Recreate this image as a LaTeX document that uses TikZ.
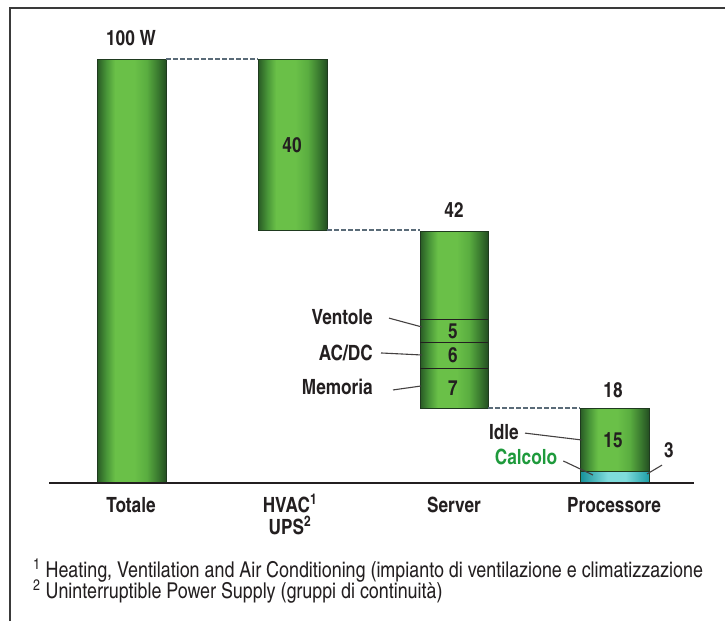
\documentclass[tikz,border=0pt]{standalone}
\usepackage{fontspec}
\setmainfont{texgyreheroscn}[Extension=.otf, UprightFont=*-regular, BoldFont=*-bold]
\usetikzlibrary{calc}

\definecolor{ink}{HTML}{231F20}
\definecolor{frame}{HTML}{3A3A3A}
\definecolor{dashc}{HTML}{5A6B78}
\definecolor{barline}{HTML}{1F3A1F}
\definecolor{calcgreen}{HTML}{1E9A3C}
% green bar colours, from the left edge to the right edge
\definecolor{gA}{HTML}{285A25}
\definecolor{gB}{HTML}{4A9839}
\definecolor{gC}{HTML}{6AC048}
\definecolor{gD}{HTML}{5AAD40}
\definecolor{gE}{HTML}{3A7A2F}
\definecolor{gF}{HTML}{244F22}
% cyan segment colours
\definecolor{cA}{HTML}{159099}
\definecolor{cB}{HTML}{7FDCDC}
\definecolor{cC}{HTML}{1E9EA6}

\pgfdeclarehorizontalshading{barshade}{100bp}{%
  color(0bp)=(gA); color(25bp)=(gA); color(32bp)=(gB); color(38bp)=(gC);
  color(52bp)=(gC); color(61bp)=(gD); color(69bp)=(gE); color(75bp)=(gF);
  color(100bp)=(gF)}
\pgfdeclarehorizontalshading{calcshade}{100bp}{%
  color(0bp)=(cA); color(25bp)=(cA); color(45bp)=(cB); color(58bp)=(cB);
  color(75bp)=(cC); color(100bp)=(cC)}

\tikzset{
  bar/.style={shading=barshade, draw=barline, line width=0.9pt,
    inner sep=0pt, outer sep=0pt, anchor=south west},
  calcbar/.style={shading=calcshade, draw=barline, line width=0.9pt,
    inner sep=0pt, outer sep=0pt, anchor=south west},
  lab/.style={font=\bfseries\fontsize{21}{24}\selectfont, text=ink,
    inner sep=0pt, anchor=base},
  foot/.style={font=\fontsize{21.8}{24}\selectfont, text=ink,
    inner sep=0pt, anchor=base west},
  leader/.style={draw=ink!85, line width=1.1pt},
  link/.style={draw=dashc, line width=1.4pt, dash pattern=on 4.5pt off 2.5pt},
  seg/.style={draw=ink, line width=1pt}
}

\begin{document}
\begin{tikzpicture}[x=1pt, y=-1pt]
\useasboundingbox (0,0) rectangle (725,621);

% frame on the top and left sides
\draw[frame, line width=1.6pt] (10,621) -- (10,8) -- (725,8);

% bars
\node[bar, minimum width=69pt, minimum height=424pt] (tot)    at (97,483)  {};
\node[bar, minimum width=69pt, minimum height=171pt] (hvac)   at (258,230) {};
\node[bar, minimum width=68pt, minimum height=177pt] (server) at (420,408) {};
\node[bar, minimum width=69pt, minimum height=75pt]  (proc)   at (580,483) {};
\node[calcbar, minimum width=69pt, minimum height=12pt] (calc) at (580,483) {};

% segments inside the server bar
\coordinate (s1) at (420,319);
\coordinate (s2) at (420,342);
\coordinate (s3) at (420,368);
\draw[seg] (s1) -- (s1 -| server.east);
\draw[seg] (s2) -- (s2 -| server.east);
\draw[seg] (s3) -- (s3 -| server.east);

% dashed links between consecutive bars
\draw[link] (tot.north east) -- (hvac.north west);
\draw[link] (hvac.south east) -- (hvac.south east -| server.west);
\draw[link] (server.south east) -- (proc.north west);

% baseline
\coordinate (ax1) at (49,483);
\coordinate (ax2) at (694,483);
\draw[ink, line width=2.6pt] (ax1) -- (ax2);

% values
\node[lab] (v100) at (131,45.5)  {100 W};
\node[lab] (v40)  at (292,152.5) {40};
\node[lab] (v42)  at (454,217.5) {42};
\node[lab] (v5)   at (453,338) {5};
\node[lab] (v6)   at (453,362.5) {6};
\node[lab] (v7)   at (453,395.5) {7};
\node[lab] (v18)  at (613,397.5) {18};
\node[lab] (v15)  at (613,447.5) {15};
\node[lab] (v3)   at (669,457.5) {3};

% component labels with leader lines
\node[lab, anchor=base east] (lvent) at (373,324.5) {Ventole};
\node[lab, anchor=base east] (lacdc) at (373,360.5) {AC/DC};
\node[lab, anchor=base east] (lmem)  at (373,394.5) {Memoria};
\node[lab, anchor=base east] (lidle) at (519,439.5) {Idle};
\node[lab, text=calcgreen]   (lcalc) at (526,464.5) {Calcolo};

\coordinate (pvent) at (422,327);
\coordinate (pacdc) at (422,355);
\coordinate (pmem)  at (421,386);
\coordinate (pidle) at (582,440);
\coordinate (pcalc) at (593,475);
\coordinate (pthree) at (647,474);

\draw[leader] ($(lvent.east)+(16,1)$) -- (pvent);
\draw[leader] ($(lacdc.east)+(8,0)$) -- (pacdc);
\draw[leader] ($(lmem.east)+(20,3)$) -- (pmem);
\draw[leader] ($(lidle.east)+(6,1)$) -- (pidle);
\draw[leader] ($(lcalc.east)+(6,4)$) -- (pcalc);
\draw[leader] ($(v3.south)+(-7,7)$) -- (pthree);

% category labels
\node[lab] (ctot)  at (131,512.5) {Totale};
\node[lab] (chvac) at (290,512.5) {HVAC\textsuperscript{1}};
\node[lab] (cups)  at (290,534.5) {UPS\textsuperscript{2}};
\node[lab] (cserv) at (454,512.5) {Server};
\node[lab] (cproc) at (614,512.5) {Processore};

% footnotes
\node[foot] (fn1) at (33,577.5) {\textsuperscript{1} Heating, Ventilation and Air Conditioning (impianto di ventilazione e climatizzazione};
\node[foot] (fn2) at (33,598) {\textsuperscript{2} Uninterruptible Power Supply (gruppi di continuità)};
\end{tikzpicture}
\end{document}
